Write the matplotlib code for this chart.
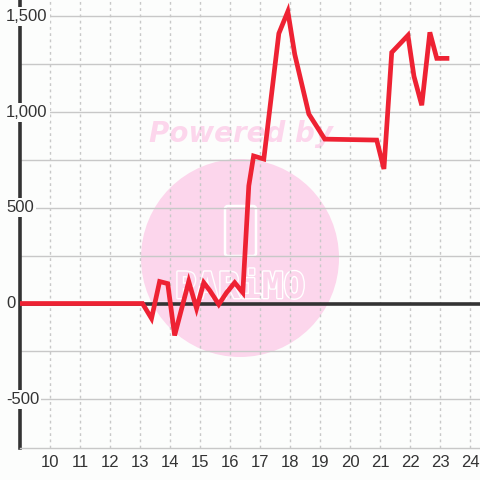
import numpy as np
import matplotlib
matplotlib.use('Agg')
import matplotlib.pyplot as plt
import matplotlib.transforms as mtransforms
import matplotlib.patheffects as pe
from matplotlib.patches import Circle, FancyBboxPatch

# data
x_vals = [9.0, 13.08, 13.38, 13.65, 13.92, 14.15, 14.62, 14.88, 15.12, 15.32,
          15.62, 15.88, 16.15, 16.42, 16.62, 16.78, 17.12, 17.62, 17.92, 18.15,
          18.62, 19.15, 20.88, 21.12, 21.38, 21.92, 22.12, 22.38, 22.65, 22.88,
          23.22]
y_vals = [0, 0, -78, 115, 104, -167, 115, -26, 109, 68,
          -5, 57, 109, 57, 615, 771, 755, 1411, 1526, 1302,
          990, 859, 854, 703, 1312, 1401, 1188, 1036, 1417, 1281,
          1281]
x_ticks = list(range(10, 25))
y_ticks = [-500, 0, 500, 1000, 1500]
y_grid = [-500, -250, 250, 500, 750, 1000, 1250, 1500]

bg = '#fcfdfc'
dark = '#333333'
grid_c = '#c8c8c8'
pink = '#fcd6ec'
red = '#ee2233'

plt.rcParams['font.family'] = ['Liberation Sans', 'DejaVu Sans']

fig = plt.figure(figsize=(4.8, 4.8), dpi=100, facecolor=bg)
ax = fig.add_axes([20/480, 32/480, 460/480, 448/480], facecolor=bg)
ax.set_xlim(9.0, 24.32)
ax.set_ylim(-755, 1586)

# watermark (behind everything)
fig.patches.append(Circle((240/480, 1 - 258/480), 99/480, transform=fig.transFigure,
                          facecolor=pink, edgecolor='none', zorder=0))
fig.patches.append(FancyBboxPatch((225/480, 1 - 256/480), 31/480, 50/480,
                                  boxstyle='round,pad=0,rounding_size=0.006',
                                  transform=fig.transFigure, facecolor='none',
                                  edgecolor='white', linewidth=1.8, zorder=0.5))
fig.text(240/480, 1 - 288/480, 'PARiMO', family='DejaVu Sans Mono', weight='bold',
         fontsize=26, color=pink, ha='center', va='center', zorder=0.5,
         path_effects=[pe.Stroke(linewidth=2, foreground='white'), pe.Normal()])
fig.text(241/480, 1 - 134/480, 'Powered by', family='DejaVu Sans', weight='bold',
         style='italic', fontsize=20, color=pink, ha='center', va='center', zorder=0.5)
ax.set_zorder(1)
ax.patch.set_alpha(0)

# grid
for g in y_grid:
    ax.axhline(g, color=grid_c, lw=1, zorder=1)
for t in x_ticks:
    ax.axvline(t, color=grid_c, lw=1, ls=(0, (2, 2.5)), zorder=1)
ax.axhline(0, color=dark, lw=2.6, zorder=2)

ax.plot(x_vals, y_vals, color=red, lw=3.4, solid_joinstyle='miter', zorder=3)

for s in ['top', 'right']:
    ax.spines[s].set_visible(False)
ax.spines['bottom'].set_color(grid_c)
ax.spines['bottom'].set_linewidth(1)
ax.spines['left'].set_color(dark)
ax.spines['left'].set_linewidth(2.6)
ax.spines['left'].set_zorder(2)

ax.set_xticks(x_ticks)
ax.set_xticklabels([str(t) for t in x_ticks])
ax.tick_params(axis='x', length=0, pad=5, labelsize=12, labelcolor=dark)
ax.set_yticks([])

trans = mtransforms.blended_transform_factory(fig.transFigure, ax.transData)
for v in y_ticks:
    ax.text(6/480, v, f'{v:,}', transform=trans, ha='left', va='center',
            fontsize=12, color=dark, zorder=5, clip_on=False,
            bbox=dict(facecolor=bg, edgecolor='none', pad=1.5))

fig.savefig('out.png', dpi=100, facecolor=bg)
